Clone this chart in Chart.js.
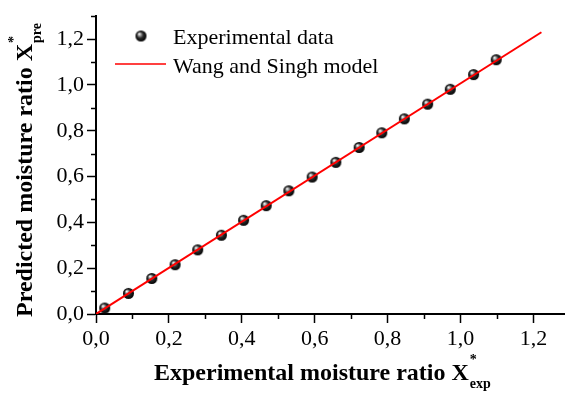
<!DOCTYPE html>
<html>
<head>
<meta charset="utf-8">
<script src="https://cdn.jsdelivr.net/npm/chart.js@4/dist/chart.umd.min.js"></script>
<style>
html,body{margin:0;padding:0;background:#fff;}
#wrap{width:569px;height:395px;position:relative;}
</style>
</head>
<body>
<div id="wrap"><canvas id="c" width="569" height="395"></canvas></div>
<script>
// Data
const expX = [0.024, 0.089, 0.153, 0.217, 0.279, 0.344, 0.405, 0.467, 0.529, 0.593, 0.658, 0.722, 0.784, 0.846, 0.910, 0.972, 1.036, 1.098];
const expY = [0.026, 0.090, 0.155, 0.215, 0.280, 0.344, 0.409, 0.473, 0.538, 0.598, 0.662, 0.727, 0.791, 0.852, 0.916, 0.981, 1.045, 1.110];
const modelX = [0.0, 1.222];
const modelY = [0.0, 1.230];
const majorTicks = [0, 0.2, 0.4, 0.6, 0.8, 1.0, 1.2];
const minorTicksX = [0.1, 0.3, 0.5, 0.7, 0.9, 1.1];
const minorTicksY = [0.1, 0.3, 0.5, 0.7, 0.9, 1.1, 1.3];
const legendLabels = ["Experimental data", "Wang and Singh model"];
const xTitle = ["Experimental moisture ratio X", "*", "exp"];
const yTitle = ["Predicted moisture ratio X", "*", "pre"];

// sphere marker
function makeSphere(r) {
  const s = 2 * r + 2;
  const cv = document.createElement('canvas');
  cv.width = s; cv.height = s;
  const g = cv.getContext('2d');
  const c = s / 2;
  const grad = g.createRadialGradient(c - r * 0.35, c - r * 0.4, r * 0.05, c, c, r);
  grad.addColorStop(0, '#ffffff');
  grad.addColorStop(0.25, '#9a9a9a');
  grad.addColorStop(0.55, '#2a2a2a');
  grad.addColorStop(1, '#000000');
  g.fillStyle = grad;
  g.beginPath(); g.arc(c, c, r, 0, Math.PI * 2); g.fill();
  return cv;
}
const sphere = makeSphere(5.5);

const FONT = "'Liberation Serif', 'Times New Roman', serif";
const fmt = v => v.toFixed(1).replace('.', ',');

const decor = {
  id: 'decor',
  afterDraw(chart) {
    const ctx = chart.ctx;
    const xs = chart.scales.x, ys = chart.scales.y;
    ctx.save();
    // minor ticks
    ctx.strokeStyle = '#000'; ctx.lineWidth = 1.5;
    minorTicksX.forEach(v => {
      const px = Math.round(xs.getPixelForValue(v)) + 0.5;
      ctx.beginPath(); ctx.moveTo(px, ys.bottom); ctx.lineTo(px, ys.bottom + 5); ctx.stroke();
    });
    minorTicksY.forEach(v => {
      const py = Math.round(ys.getPixelForValue(v)) + 0.5;
      ctx.beginPath(); ctx.moveTo(xs.left, py); ctx.lineTo(xs.left - 5, py); ctx.stroke();
    });
    // legend
    ctx.fillStyle = '#000';
    ctx.font = '22px ' + FONT;
    ctx.textBaseline = 'alphabetic';
    ctx.textAlign = 'left';
    ctx.drawImage(sphere, 141 - sphere.width / 2, 36 - sphere.height / 2);
    ctx.fillText(legendLabels[0], 173, 44);
    ctx.strokeStyle = '#ff0000'; ctx.lineWidth = 1.5;
    ctx.beginPath(); ctx.moveTo(115, 64); ctx.lineTo(166, 64); ctx.stroke();
    ctx.fillText(legendLabels[1], 173, 73);
    // x title
    ctx.font = 'bold 24px ' + FONT;
    const w1 = ctx.measureText(xTitle[0]).width;
    const xStart = 154;
    ctx.fillText(xTitle[0], xStart, 380);
    ctx.font = 'bold 14px ' + FONT;
    ctx.fillText(xTitle[1], xStart + w1 + 1, 364);
    ctx.fillText(xTitle[2], xStart + w1 + 1, 388);
    // y title
    ctx.save();
    ctx.translate(32, 317);
    ctx.rotate(-Math.PI / 2);
    ctx.font = 'bold 24px ' + FONT;
    const w2 = ctx.measureText(yTitle[0]).width;
    ctx.fillText(yTitle[0], 0, 0);
    ctx.font = 'bold 14px ' + FONT;
    ctx.fillText(yTitle[1], w2 + 1, -14);
    ctx.fillText(yTitle[2], w2 + 1, 9);
    ctx.restore();
    ctx.restore();
  }
};

new Chart(document.getElementById('c'), {
  type: 'scatter',
  data: {
    datasets: [
      {
        label: legendLabels[1],
        data: modelX.map((x, i) => ({x, y: modelY[i]})),
        showLine: true,
        borderColor: '#ff0000',
        borderWidth: 2,
        pointRadius: 0,
        fill: false
      },
      {
        label: legendLabels[0],
        data: expX.map((x, i) => ({x, y: expY[i]})),
        pointStyle: sphere,
        showLine: false
      }
    ]
  },
  options: {
    responsive: false,
    animation: false,
    devicePixelRatio: 1,
    layout: { padding: { top: 12, right: 0, left: 0, bottom: 0 } },
    plugins: { legend: { display: false }, tooltip: { enabled: false } },
    scales: {
      x: {
        type: 'linear', min: 0, max: 1.284,
        afterBuildTicks: s => { s.ticks = majorTicks.map(v => ({value: v})); },
        afterFit: s => { s.height = 81; },
        grid: { display: true, drawOnChartArea: false, drawTicks: true, tickLength: 9, tickWidth: 1.5, tickColor: '#000' },
        border: { display: true, color: '#000', width: 2 },
        ticks: { color: '#000', padding: 3, font: { family: FONT, size: 22 }, callback: v => fmt(v), maxRotation: 0, autoSkip: false }
      },
      y: {
        type: 'linear', min: 0, max: 1.3,
        afterBuildTicks: s => { s.ticks = majorTicks.map(v => ({value: v})); },
        afterFit: s => { s.width = 96; },
        grid: { display: true, drawOnChartArea: false, drawTicks: true, tickLength: 9, tickWidth: 1.5, tickColor: '#000' },
        border: { display: true, color: '#000', width: 2 },
        ticks: { color: '#000', padding: 3, font: { family: FONT, size: 22 }, callback: v => fmt(v), autoSkip: false }
      }
    }
  },
  plugins: [decor]
});
</script>
</body>
</html>
